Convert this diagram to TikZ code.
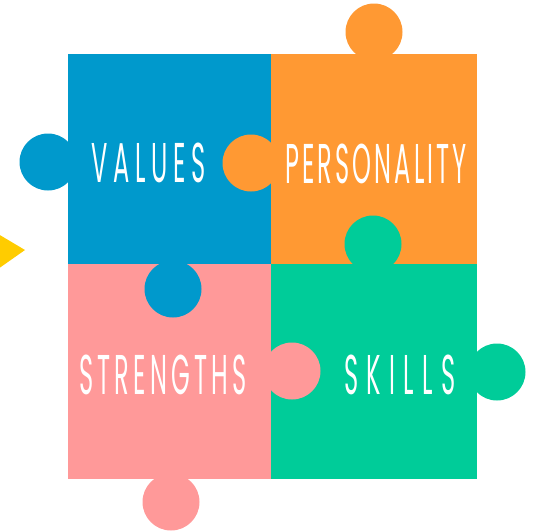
\documentclass[tikz,border=0pt]{standalone}
\usepackage{fontspec}
\newfontfamily\piecefont[FakeStretch=0.43]{Poppins}
\usetikzlibrary{positioning}
\definecolor{valblue}{RGB}{0,153,204}
\definecolor{perorange}{RGB}{255,153,51}
\definecolor{strpink}{RGB}{255,153,153}
\definecolor{skigreen}{RGB}{0,204,153}
\definecolor{arrowyellow}{RGB}{255,204,0}
\newcommand{\track}[1]{\addfontfeature{LetterSpace=#1}}

\begin{document}
\begin{tikzpicture}[x=1pt,y=-1pt,
    label/.style={text=white,inner sep=0pt,font=\piecefont\fontsize{56}{56}\selectfont},
    tab/.style={radius=28.5}]
  \useasboundingbox (0,0) rectangle (535,530);
  \clip (0,0) rectangle (535,530);
  % yellow pointer
  \fill[arrowyellow] (-12,228) -- (25,250) -- (-12,276) -- cycle;
  % the four pieces
  \fill[valblue] (68,54) rectangle (271,264);
  \fill[perorange] (271,54) rectangle (477,264);
  \fill[strpink] (68,264) rectangle (271,479);
  \fill[skigreen] (271,264) rectangle (477,479);
  % tabs
  \fill[valblue] (48,162) circle[tab];
  \fill[perorange] (374,32) circle[tab];
  \fill[perorange] (251,163) circle[tab];
  \fill[skigreen] (373,244) circle[tab];
  \fill[valblue] (173,289) circle[tab];
  \fill[strpink] (292,371) circle[tab];
  \fill[skigreen] (497,372) circle[tab];
  \fill[strpink] (171,502) circle[tab];
  % labels
  \node[label] (values) at (148.5,162.5) {\track{10}VALUES};
  \node[label] (personality) at (376,164) {\track{5.5}PERSONALITY};
  \node[label] (strengths) at (163,375) {\track{7.5}STRENGTHS};
  \node[label] (skills) at (400,375) {\track{15}SKILLS};
\end{tikzpicture}
\end{document}
